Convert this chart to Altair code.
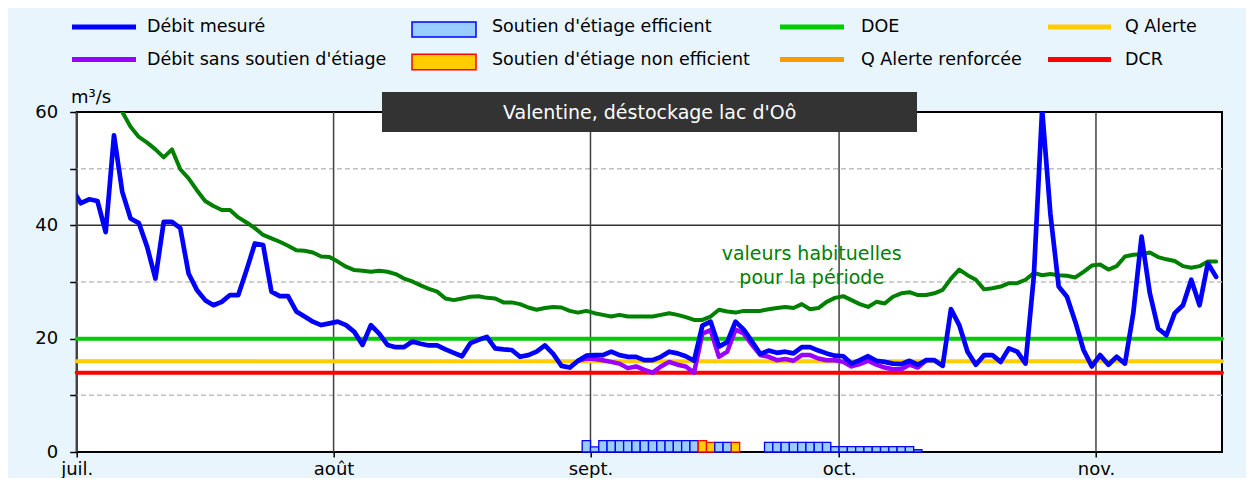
import altair as alt
import pandas as pd

FONT = "DejaVu Sans"

# ---------------- data ----------------
# Débit mesuré, daily from 2022-06-30 (m3/s)
debit_start = "2022-06-30"
debit_mesure = [
    46.3,
    43.9, 44.6, 44.3, 38.8, 55.9, 45.9, 41.2, 40.4, 36.2, 30.6,
    40.6, 40.6, 39.5, 31.5, 28.6, 26.8, 25.9, 26.5, 27.7, 27.7,
    32.1, 36.8, 36.5, 28.3, 27.5, 27.5, 24.8, 23.9, 23.0, 22.4,
    22.7, 23.0, 22.4, 21.2, 18.9, 22.4, 20.9, 18.9, 18.5, 18.5,
    19.5, 19.1, 18.8, 18.8, 18.1, 17.5, 16.9, 19.2, 19.8, 20.3,
    18.3, 18.1, 18.0, 16.8, 17.1, 17.7, 18.8, 17.3, 15.2, 14.9,
    16.1, 17.0, 17.1, 17.1, 17.7, 17.1, 16.8, 16.8, 16.2, 16.2,
    16.8, 17.7, 17.4, 16.9, 16.1, 22.3, 23.0, 18.6, 19.4, 23.0,
    21.6, 19.5, 17.3, 17.9, 17.5, 17.7, 17.4, 18.5, 18.5, 17.9,
    17.4, 17.0, 16.9, 15.6, 16.2, 16.9, 16.1, 15.9, 15.6, 15.5,
    16.1, 15.4, 16.2, 16.2, 15.2, 25.2, 22.4, 17.7, 15.4, 17.1,
    17.1, 15.9, 18.3, 17.7, 15.6, 31.0, 60.5, 42.0, 29.2, 27.4,
    23.0, 18.0, 15.1, 17.1, 15.4, 16.8, 15.6, 24.5, 38.0, 28.0,
    21.8, 20.6, 24.5, 25.9, 30.4, 25.9, 33.3, 30.9,
]

# Valeurs habituelles pour la période, daily from 2022-06-30
habituel_start = "2022-06-30"
habituelles = [
    74.0,
    72.0, 70.0, 67.5, 65.0, 62.5, 60.0, 57.4, 55.6, 54.6, 53.4,
    52.0, 53.4, 49.9, 48.3, 46.2, 44.3, 43.4, 42.7, 42.7, 41.4,
    40.5, 39.5, 38.3, 37.7, 37.1, 36.4, 35.6, 35.5, 35.2, 34.5,
    34.4, 33.6, 32.7, 32.1, 32.0, 31.8, 32.0, 31.8, 31.4, 30.6,
    30.1, 29.4, 28.8, 28.3, 27.1, 26.8, 27.1, 27.4, 27.5, 27.2,
    27.1, 26.4, 26.4, 26.1, 25.5, 25.1, 25.4, 25.6, 25.5, 24.9,
    24.6, 24.9, 24.5, 24.2, 23.9, 24.2, 23.9, 23.9, 23.9, 23.9,
    24.2, 24.5, 24.2, 23.8, 23.3, 23.3, 23.9, 25.1, 24.8, 24.6,
    24.9, 24.9, 24.9, 25.2, 25.4, 25.6, 25.4, 26.1, 25.2, 25.4,
    26.5, 27.2, 27.5, 26.8, 26.1, 25.6, 26.5, 26.2, 27.4, 28.0,
    28.2, 27.7, 27.7, 28.0, 28.6, 30.6, 32.2, 31.2, 30.4, 28.7,
    28.9, 29.2, 29.8, 29.8, 30.4, 31.6, 31.2, 31.4, 31.2, 31.1,
    30.8, 31.8, 32.9, 33.1, 32.2, 32.8, 34.5, 34.8, 34.9, 35.2,
    34.4, 34.0, 33.7, 32.8, 32.5, 32.8, 33.6, 33.6,
]

# Débit sans soutien d'étiage, daily from 2022-08-30
sans_start = "2022-08-30"
debit_sans_soutien = [
    16.1, 16.5, 16.4, 16.2, 15.9, 15.6, 14.8, 15.1, 14.5, 14.0,
    15.1, 15.9, 15.4, 15.1, 14.0, 20.9, 21.5, 16.8, 17.7, 21.6,
    20.9, 18.9, 17.1, 16.8, 16.2, 16.4, 16.1, 17.1, 17.1, 16.5,
    16.2, 16.2, 15.9, 15.1, 15.5, 16.1, 15.4, 14.9, 14.6, 14.6,
    15.4, 14.9, 16.2,
]

# Soutien d'étiage (daily bars) from 2022-08-31; E = efficient, N = non efficient
soutien_start = "2022-08-31"
soutien_valeurs = [
    2.0, 0.9, 2.0, 2.0, 2.0, 2.0, 2.0, 2.0, 2.0, 2.0, 2.0, 2.0, 2.0, 2.0,
    2.0, 1.7, 1.7, 1.7, 1.7, 0.0, 0.0, 0.0,
    1.7, 1.7, 1.7, 1.7, 1.7, 1.7, 1.7, 1.7,
    0.95, 0.95, 0.95, 0.95, 0.95, 0.95, 0.95, 0.95, 0.95, 0.95, 0.4,
]
soutien_type = [
    "E", "E", "E", "E", "E", "E", "E", "E", "E", "E", "E", "E", "E", "E",
    "N", "N", "E", "E", "N", "E", "E", "E",
    "E", "E", "E", "E", "E", "E", "E", "E",
    "E", "E", "E", "E", "E", "E", "E", "E", "E", "E", "E",
]

# Seuils
seuil_noms = ["DOE", "Q Alerte", "DCR"]
seuil_valeurs = [20, 16, 14]

# grid / ticks
mois_debut = ["2022-07-01", "2022-08-01", "2022-09-01", "2022-10-01", "2022-11-01"]
grille_pointillee = [10, 30, 50]
grille_pleine = [20, 40]

# ---------------- frames ----------------
def daily(start, values):
    d = pd.date_range(pd.Timestamp(start) + pd.Timedelta(hours=12), periods=len(values), freq="D")
    return pd.DataFrame({"date": d, "v": values})

df_mes = daily(debit_start, debit_mesure)
df_hab = daily(habituel_start, habituelles)
df_sans = daily(sans_start, debit_sans_soutien)

b_start = pd.date_range(soutien_start, periods=len(soutien_valeurs), freq="D")
df_bars = pd.DataFrame({
    "start": b_start,
    "end": b_start + pd.Timedelta(days=1),
    "v": soutien_valeurs,
    "kind": ["efficient" if t == "E" else "non efficient" for t in soutien_type],
    "base": 0.0,
})
df_bars = df_bars[df_bars["v"] > 0]

df_seuils = pd.DataFrame({"name": seuil_noms, "v": seuil_valeurs})
df_mois = pd.DataFrame({"date": pd.to_datetime(mois_debut)})

# ---------------- scales / axes ----------------
x_scale = alt.Scale(domain=[alt.DateTime(year=2022, month=7, date=1),
                            alt.DateTime(year=2022, month=11, date=16, hours=5)])
y_scale = alt.Scale(domain=[0, 60], nice=False, zero=False)

month_expr = ("['janv.','févr.','mars','avr.','mai','juin','juil.','août','sept.',"
              "'oct.','nov.','déc.'][month(datum.value)]")
x_axis = alt.Axis(values=[alt.DateTime(year=2022, month=m, date=1) for m in [7, 8, 9, 10, 11]],
                  labelExpr=month_expr, title=None, grid=False, domain=False,
                  tickSize=5, tickColor="black", tickWidth=1.5,
                  labelFont=FONT, labelFontSize=18, labelColor="black",
                  labelPadding=17, labelBaseline="alphabetic", labelAlign="center",
                  labelFlush=False)
y_axis = alt.Axis(values=[0, 10, 20, 30, 40, 50, 60],
                  labelExpr="datum.value % 20 == 0 ? datum.label : ''",
                  title=None, grid=False, domain=False,
                  tickSize=7, tickColor="black", tickWidth=1.5,
                  labelFont=FONT, labelFontSize=18, labelColor="black", labelPadding=12)

X = lambda f: alt.X(f, scale=x_scale, axis=x_axis)
Y = lambda f: alt.Y(f, scale=y_scale, axis=y_axis)

# ---------------- layers ----------------
g_dash = alt.Chart(pd.DataFrame({"v": grille_pointillee})).mark_rule(
    color="#C0C0C0", strokeWidth=1.5, strokeDash=[5, 3]).encode(y=Y("v:Q"))
g_solid = alt.Chart(pd.DataFrame({"v": grille_pleine})).mark_rule(
    color="#333333", strokeWidth=1.5).encode(y=Y("v:Q"))
g_vert = alt.Chart(df_mois).mark_rule(color="#404040", strokeWidth=1.5).encode(x=X("date:T"))

bars = alt.Chart(df_bars).mark_rect(strokeWidth=1.3).encode(
    x=X("start:T"), x2="end:T", y=Y("v:Q"), y2="base:Q",
    fill=alt.Fill("kind:N", scale=alt.Scale(domain=["efficient", "non efficient"],
                                             range=["#99CCFF", "#FFCC00"]), legend=None),
    stroke=alt.Stroke("kind:N", scale=alt.Scale(domain=["efficient", "non efficient"],
                                                 range=["#0000FF", "#FF0000"]), legend=None),
)

seuils = alt.Chart(df_seuils).mark_rule(strokeWidth=4, strokeCap="round").encode(
    y=Y("v:Q"),
    color=alt.Color("name:N", scale=alt.Scale(domain=seuil_noms,
                                              range=["#00CC00", "#FFCC00", "#FF0000"]), legend=None),
)

line_kw = dict(clip=True, strokeJoin="round", strokeCap="round")
hab = alt.Chart(df_hab).mark_line(color="#008000", strokeWidth=4, **line_kw).encode(
    x=X("date:T"), y=Y("v:Q"))
sans = alt.Chart(df_sans).mark_line(color="#9900FF", strokeWidth=4.5, **line_kw).encode(
    x=X("date:T"), y=Y("v:Q"))
mes = alt.Chart(df_mes).mark_line(color="#0000FF", strokeWidth=4.7, **line_kw).encode(
    x=X("date:T"), y=Y("v:Q"))

one = pd.DataFrame({"_": [0]})

def txt(s, x, y, size=18, color="black", align="left", weight="normal"):
    return alt.Chart(one).mark_text(text=s, font=FONT, fontSize=size, color=color,
                                    align=align, baseline="alphabetic", fontWeight=weight).encode(
        x=alt.value(x), y=alt.value(y))

def hline(x1, x2, y, color, w=5):
    return alt.Chart(one).mark_rule(color=color, strokeWidth=w).encode(
        x=alt.value(x1), x2=alt.value(x2), y=alt.value(y))

def box(x1, x2, y1, y2, fill, stroke=None, sw=0):
    kw = dict(fill=fill)
    if stroke:
        kw.update(stroke=stroke, strokeWidth=sw)
    return alt.Chart(one).mark_rect(**kw).encode(
        x=alt.value(x1), x2=alt.value(x2), y=alt.value(y1), y2=alt.value(y2))

annot = [
    txt("valeurs habituelles", 735, 148, size=19, color="#008000", align="center"),
    txt("pour la période", 735, 172.3, size=19, color="#008000", align="center"),
    box(305.3, 840.3, -20, 20, "#333333"),
    txt("Valentine, déstockage lac d'Oô", 573, 7.3, size=19, color="white", align="center"),
    txt("m³/s", -5.7, -8.7),
]

R1L, R1T = -85, -79.7
R2L, R2T = -52.5, -47
LS = 17.5
legend = [
    hline(-4.7, 59.3, R1L, "#0000FF"), txt("Débit mesuré", 70.3, R1T, LS),
    hline(-4.7, 59.3, R2L, "#9900FF"), txt("Débit sans soutien d'étiage", 70.3, R2T, LS),
    box(335.3, 399.3, -90, -75, "#99CCFF", "#0000FF", 1.5),
    txt("Soutien d'étiage efficient", 415.3, R1T, LS),
    box(335.3, 399.3, -57.7, -42.3, "#FFCC00", "#FF0000", 1.5),
    txt("Soutien d'étiage non efficient", 415.3, R2T, LS),
    hline(703.3, 767.3, R1L, "#00CC00"), txt("DOE", 784.3, R1T, LS),
    hline(703.3, 767.3, R2L, "#FF9900"), txt("Q Alerte renforcée", 784.3, R2T, LS),
    hline(971.3, 1034.3, R1L, "#FFCC00"), txt("Q Alerte", 1048.3, R1T, LS),
    hline(971.3, 1034.3, R2L, "#FF0000"), txt("DCR", 1048.3, R2T, LS),
]

chart = alt.layer(
    g_dash, g_solid, g_vert, bars, seuils, hab, sans, mes, *annot, *legend
).properties(
    width=1145.3, height=340,
    padding={"left": 68.7, "top": 104, "right": 24, "bottom": 26},
    autosize=alt.AutoSizeParams(type="none"),
).configure(
    background="#E8F5FD",
).configure_view(
    fill="white", stroke="black", strokeWidth=2,
)

chart.save("out.html", embed_options={"renderer": "svg", "actions": False})
